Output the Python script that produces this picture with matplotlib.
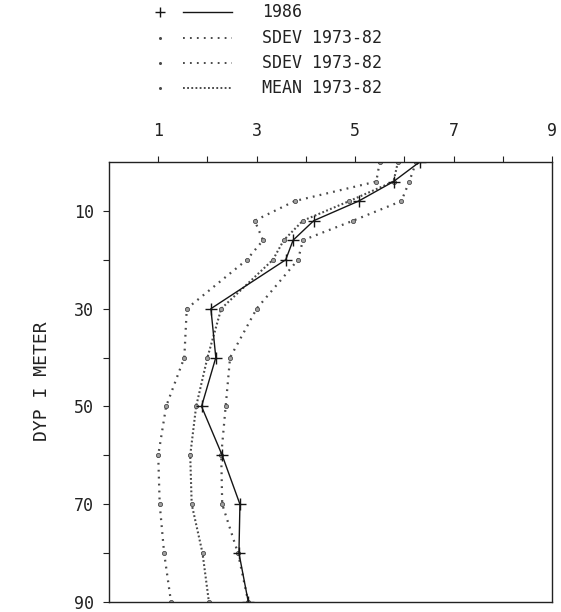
import matplotlib
matplotlib.use("Agg")
import matplotlib.pyplot as plt
from matplotlib.lines import Line2D

plt.rcParams['font.family'] = ['DejaVu Sans Mono']
plt.rcParams['lines.scale_dashes'] = False

# dybde (m) og verdier lest av figuren
depths = [0, 4, 8, 12, 16, 20, 30, 40, 50, 60, 70, 80, 90]
v1986 = [6.31, 5.78, 5.07, 4.16, 3.74, 3.59, 2.07, 2.17, 1.88, 2.30, 2.66, 2.64, 2.83]
sdev_low = [5.50, 5.43, 3.77, 2.96, 3.13, 2.80, 1.58, 1.53, 1.16, 1.00, 1.03, 1.12, 1.26]
sdev_high = [6.24, 6.10, 5.94, 4.96, 3.94, 3.84, 3.00, 2.46, 2.37, 2.28, 2.30, 2.62, 2.83]
mean = [5.87, 5.78, 4.88, 3.94, 3.55, 3.33, 2.28, 2.00, 1.77, 1.65, 1.68, 1.90, 2.03]

legend_labels = ['1986', 'SDEV 1973-82', 'SDEV 1973-82', 'MEAN 1973-82']
xticks = list(range(1, 10))
xticklabels = ['1', '', '3', '', '5', '', '7', '', '9']
yticks = list(range(10, 91, 10))
yticklabels = ['10', '', '30', '', '50', '', '70', '', '90']

W, H = 561, 612
fig = plt.figure(figsize=(W / 100, H / 100), dpi=100)
ax = fig.add_axes([109 / W, 1 - 602 / H, (552 - 109) / W, (602 - 162) / H])

dot_c = '#4a4a4a'
sd_style = (0, (1.3, 3.7))
mean_style = (0, (1.3, 1.7))
mk = dict(marker='o', ms=3.0, mfc='#a0a0a0', mec='#4a4a4a', mew=0.6)

ax.plot(sdev_low, depths, color=dot_c, lw=1.6, ls=sd_style, **mk)
ax.plot(sdev_high, depths, color=dot_c, lw=1.6, ls=sd_style, **mk)
ax.plot(mean, depths, color=dot_c, lw=1.5, ls=mean_style, **mk)
ax.plot(v1986, depths, color='#151515', lw=1.0, marker='+', ms=8, mew=1.0)

ax.set_xlim(0, 9)
ax.set_ylim(90, 0)
ax.xaxis.tick_top()
ax.set_xticks(xticks)
ax.set_xticklabels(xticklabels)
ax.set_yticks(yticks)
ax.set_yticklabels(yticklabels)
ax.tick_params(axis='x', direction='out', length=4, width=0.8, pad=12,
               labelsize=12, colors='#222222')
ax.tick_params(axis='y', direction='out', length=4, width=0.8, pad=7,
               labelsize=12, colors='#222222')
for s in ax.spines.values():
    s.set_linewidth(1.0)
    s.set_color('#222222')

fig.text(42 / W, 1 - 381 / H, 'DYP I METER', rotation=90, ha='center',
         va='center', fontsize=13, color='#222222')

# legende over figuren
rows = [12, 38, 63, 88]
styles = ['-', sd_style, sd_style, mean_style]
for ry, lab, st in zip(rows, legend_labels, styles):
    yf = 1 - ry / H
    if st == '-':
        fig.add_artist(Line2D([160 / W], [yf], marker='+', ms=7, mew=1.0,
                              color='#151515', transform=fig.transFigure))
        fig.add_artist(Line2D([183 / W, 232 / W], [yf, yf], lw=1.0,
                              color='#151515', transform=fig.transFigure))
    else:
        fig.add_artist(Line2D([160 / W], [yf], marker='o', ms=2.2, mew=0,
                              color=dot_c, transform=fig.transFigure))
        fig.add_artist(Line2D([183 / W, 232 / W], [yf, yf], lw=1.4, ls=st,
                              color=dot_c, transform=fig.transFigure))
    fig.text(262 / W, yf, lab, ha='left', va='center', fontsize=12,
             color='#222222')

fig.savefig('out.png', dpi=100)
